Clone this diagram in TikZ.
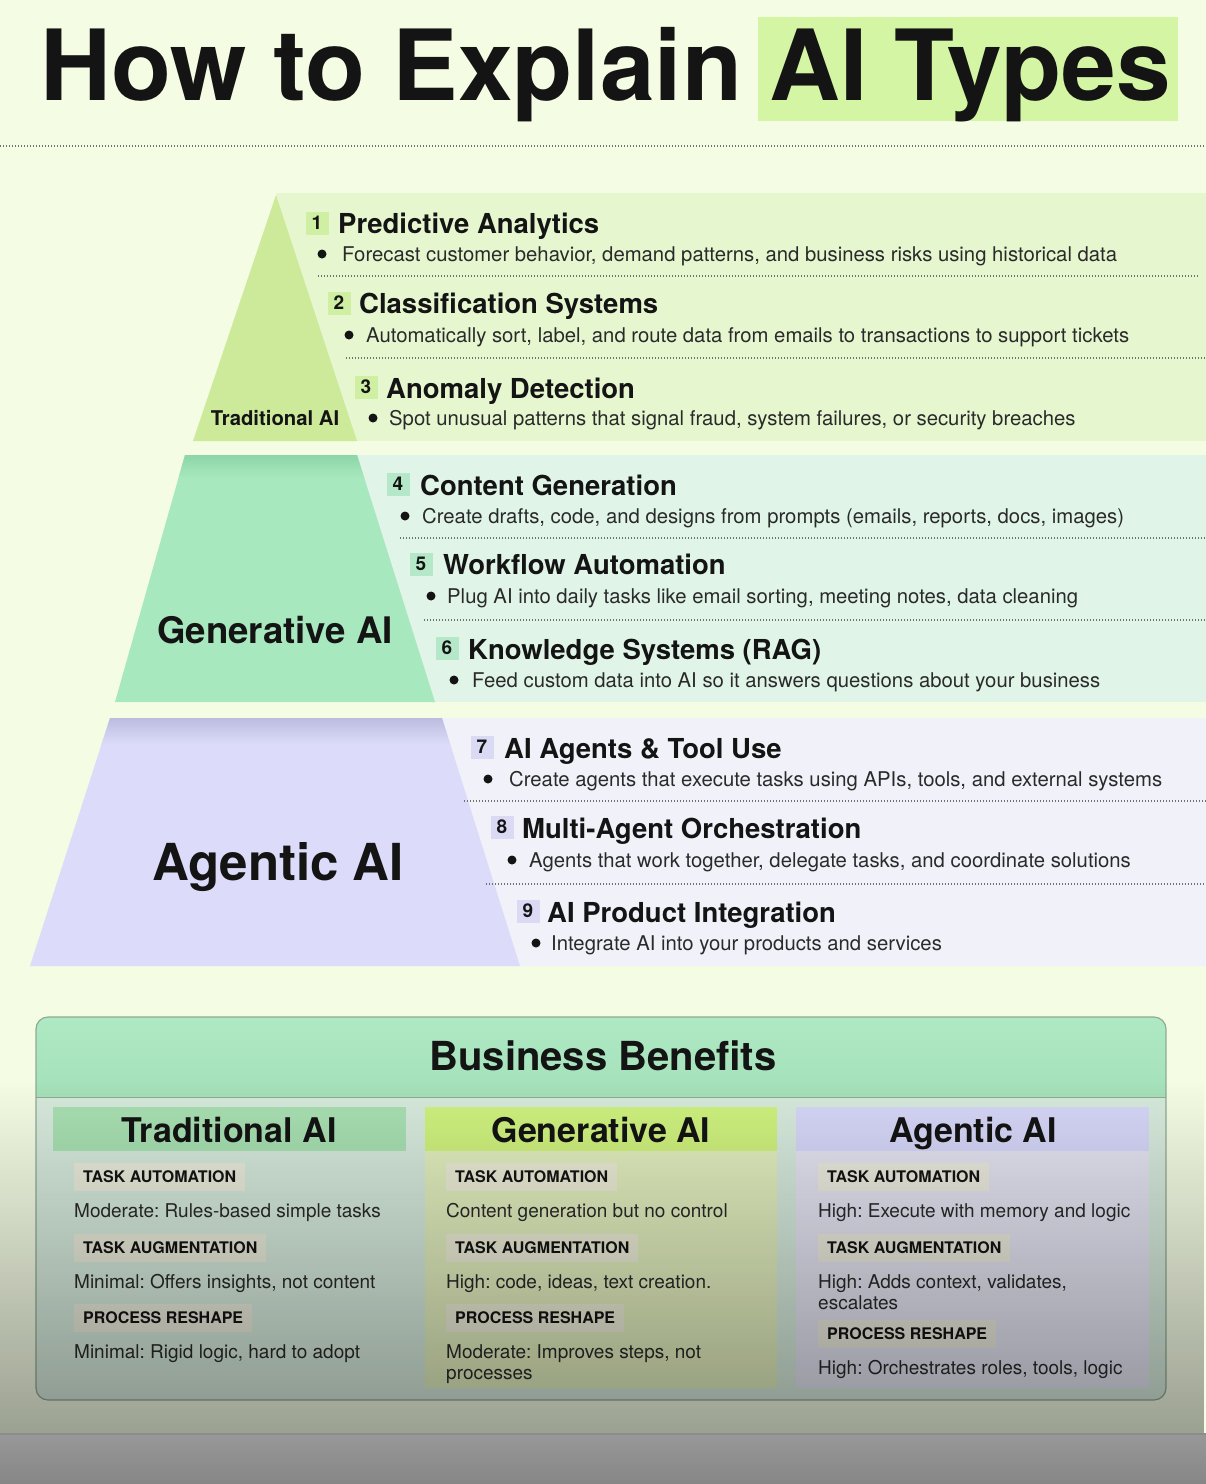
\documentclass[tikz,border=0pt]{standalone}
\usepackage{fontspec}
\setmainfont{TeX Gyre Heros}
\usetikzlibrary{fadings}
\tikzfading[name=darkdown, top color=transparent!100, bottom color=transparent!0]
\definecolor{bg}{HTML}{F4FCE4}
\definecolor{hl}{HTML}{D4F5A3}
\definecolor{ink}{HTML}{141414}
\definecolor{desc}{HTML}{2A2A2A}
\definecolor{dotc}{HTML}{707070}
\definecolor{trtri}{HTML}{CDEA9A}
\definecolor{trpanel}{HTML}{E6F7D0}
\definecolor{trbadge}{HTML}{CFF0A3}
\definecolor{gentrap}{HTML}{A8E8BE}
\definecolor{gentop}{HTML}{8CD6A8}
\definecolor{genpanel}{HTML}{E0F5E8}
\definecolor{genbadge}{HTML}{B4E8C8}
\definecolor{agtrap}{HTML}{DCDCFA}
\definecolor{agtop}{HTML}{BCBCE0}
\definecolor{agpanel}{HTML}{F1F1FA}
\definecolor{agbadge}{HTML}{DADAF5}
\definecolor{bbhead}{HTML}{AEE9C4}
\definecolor{bbhead2}{HTML}{A4E0B8}
\definecolor{bbbody}{HTML}{D6EADC}
\definecolor{bbedge}{HTML}{8FAA95}
\definecolor{colTr}{HTML}{A8E0B2}
\definecolor{colGen}{HTML}{CFF27E}
\definecolor{colAg}{HTML}{D6D6F8}
\definecolor{bodyGen}{HTML}{E2EEBE}
\definecolor{bodyAg}{HTML}{E4E4F2}
\definecolor{tagbg}{HTML}{EEEDDB}
\definecolor{stripA}{HTML}{989898}
\definecolor{stripB}{HTML}{868686}
\tikzset{
  ititle/.style={anchor=base west, inner sep=0, font=\fontsize{27.5}{30}\selectfont\bfseries, text=ink},
  idesc/.style={anchor=base west, inner sep=0, font=\fontsize{20.3}{22}\selectfont\frenchspacing, text=desc},
  badge/.style={fill=#1, minimum size=23, inner sep=0, font=\fontsize{19}{19}\selectfont\bfseries, text=ink},
  bulletdot/.style={circle, fill=ink, inner sep=0, minimum size=9},
  dotline/.style={draw=dotc, line width=1.1, dash pattern=on 1.1 off 1.9},
  tagbox/.style={anchor=west, fill=tagbg, fill opacity=0.85, text opacity=1, inner xsep=9, inner ysep=0, minimum height=28, text height=11.5, text depth=0, font=\fontsize{16}{16}\selectfont\bfseries, text=ink},
  btext/.style={anchor=base west, inner sep=0, font=\fontsize{19}{20.5}\selectfont\frenchspacing, text=desc, align=left},
  colhead/.style={anchor=base, inner sep=0, font=\fontsize{34}{36}\selectfont\bfseries, text=ink},
}
\begin{document}
\begin{tikzpicture}[x=1pt,y=-1pt]
\useasboundingbox (0,0) rectangle (1206,1484);
\fill[bg] (0,0) rectangle (1206,1484);

% ---------- title ----------
\fill[hl] (758,17) rectangle (1178,121);
\node[anchor=base west, inner sep=0, font=\fontsize{98.2}{100}\selectfont\bfseries, text=ink] (title) at (40,100) {How to Explain AI Types};
\draw[dotline] (0,146) -- (1206,146);

% ---------- Traditional tier ----------
\fill[trpanel] (276,193) rectangle (1206,441);
\fill[trtri] (276,195) -- (357,441) -- (193,441) -- cycle;
\node[anchor=base, inner sep=0, font=\fontsize{20.3}{22}\selectfont\bfseries, text=ink] (lblTr) at (275,425) {Traditional AI};

\node[badge=trbadge] (b1) at (317,223) {1};
\node[ititle] (t1) at (338,233) {Predictive Analytics};
\node[bulletdot] (d1) at (322,254) {};
\node[idesc] (s1) at (342,261) {Forecast customer behavior, demand patterns, and business risks using historical data};
\draw[dotline] (318,276) -- (1198,276);

\node[badge=trbadge] (b2) at (339,303) {2};
\node[ititle] (t2) at (359,313) {Classification Systems};
\node[bulletdot] (d2) at (349,335) {};
\node[idesc] (s2) at (366,342) {Automatically sort, label, and route data from emails to transactions to support tickets};
\draw[dotline] (346,358) -- (1206,358);

\node[badge=trbadge] (b3) at (366,387) {3};
\node[ititle] (t3) at (386,398) {Anomaly Detection};
\node[bulletdot] (d3) at (373,418) {};
\node[idesc] (s3) at (389,425) {Spot unusual patterns that signal fraud, system failures, or security breaches};

% ---------- Generative tier ----------
\fill[genpanel] (357,455) rectangle (1206,702);
\fill[gentrap] (185,455) -- (357,455) -- (435,702) -- (115,702) -- cycle;
\begin{scope}
\clip (185,455) -- (357,455) -- (435,702) -- (115,702) -- cycle;
\shade[top color=gentop, bottom color=gentrap] (100,455) rectangle (440,478);
\end{scope}
\node[anchor=base, inner sep=0, font=\fontsize{36.6}{40}\selectfont\bfseries, text=ink] (lblGen) at (275,643) {Generative AI};

\node[badge=genbadge] (b4) at (398,484) {4};
\node[ititle] (t4) at (420,495) {Content Generation};
\node[bulletdot] (d4) at (405,516) {};
\node[idesc] (s4) at (422,523) {Create drafts, code, and designs from prompts (emails, reports, docs, images)};
\draw[dotline] (400,538) -- (1206,538);

\node[badge=genbadge] (b5) at (421,564) {5};
\node[ititle] (t5) at (443,574) {Workflow Automation};
\node[bulletdot] (d5) at (431,596) {};
\node[idesc] (s5) at (447,603) {Plug AI into daily tasks like email sorting, meeting notes, data cleaning};
\draw[dotline] (424,620) -- (1206,620);

\node[badge=genbadge] (b6) at (447,648) {6};
\node[ititle] (t6) at (468,659) {Knowledge Systems (RAG)};
\node[bulletdot] (d6) at (454,680) {};
\node[idesc] (s6) at (472,687) {Feed custom data into AI so it answers questions about your business};

% ---------- Agentic tier ----------
\fill[agpanel] (442,718) rectangle (1206,966);
\fill[agtrap] (110,718) -- (442,718) -- (520,966) -- (30,966) -- cycle;
\begin{scope}
\clip (110,718) -- (442,718) -- (520,966) -- (30,966) -- cycle;
\shade[top color=agtop, bottom color=agtrap] (20,718) rectangle (530,745);
\end{scope}
\node[anchor=base, inner sep=0, font=\fontsize{51}{54}\selectfont\bfseries, text=ink] (lblAg) at (278,880) {Agentic AI};

\node[badge=agbadge] (b7) at (482,747) {7};
\node[ititle] (t7) at (504,758) {AI Agents \& Tool Use};
\node[bulletdot] (d7) at (488,779) {};
\node[idesc] (s7) at (509,786) {Create agents that execute tasks using APIs, tools, and external systems};
\draw[dotline] (464,801) -- (1206,801);

\node[badge=agbadge] (b8) at (502,827) {8};
\node[ititle] (t8) at (522,838) {Multi-Agent Orchestration};
\node[bulletdot] (d8) at (512,860) {};
\node[idesc] (s8) at (529,867) {Agents that work together, delegate tasks, and coordinate solutions};
\draw[dotline] (486,884) -- (1206,884);

\node[badge=agbadge] (b9) at (528,911) {9};
\node[ititle] (t9) at (547,922) {AI Product Integration};
\node[bulletdot] (d9) at (536,943) {};
\node[idesc] (s9) at (551,950) {Integrate AI into your products and services};

% ---------- Business benefits ----------
\begin{scope}
\clip[rounded corners=12] (36,1017) rectangle (1166,1400);
\fill[bbbody] (36,1017) rectangle (1166,1400);
\shade[top color=bbhead, bottom color=bbhead2] (36,1017) rectangle (1166,1097);
\end{scope}
\draw[bbedge, line width=1] (36,1097) -- (1166,1097);
\draw[bbedge, line width=1.2, rounded corners=12] (36,1017) rectangle (1166,1400);
\node[anchor=base, inner sep=0, font=\fontsize{40}{44}\selectfont\bfseries, text=ink] (bbtitle) at (603,1070) {Business Benefits};

% columns
\fill[colTr] (53,1107) rectangle (406,1151);
\fill[colGen] (425,1107) rectangle (777,1151);
\fill[bodyGen] (425,1151) rectangle (777,1388);
\fill[colAg] (796,1107) rectangle (1149,1151);
\fill[bodyAg] (796,1151) rectangle (1149,1388);
\node[colhead] (hTr) at (229,1142) {Traditional AI};
\node[colhead] (hGen) at (601,1142) {Generative AI};
\node[colhead] (hAg) at (973,1142) {Agentic AI};

% Traditional column
\node[tagbox] (trA) at (74,1177) {TASK AUTOMATION};
\node[btext] (trAt) at (74,1217) {Moderate: Rules-based simple tasks};
\node[tagbox] (trG) at (74,1248) {TASK AUGMENTATION};
\node[btext] (trGt) at (74,1288) {Minimal: Offers insights, not content};
\node[tagbox] (trP) at (74,1318) {PROCESS RESHAPE};
\node[btext] (trPt) at (74,1358) {Minimal: Rigid logic, hard to adopt};

% Generative column
\node[tagbox] (gnA) at (446,1177) {TASK AUTOMATION};
\node[btext] (gnAt) at (446,1217) {Content generation but no control};
\node[tagbox] (gnG) at (446,1248) {TASK AUGMENTATION};
\node[btext] (gnGt) at (446,1288) {High: code, ideas, text creation.};
\node[tagbox] (gnP) at (446,1318) {PROCESS RESHAPE};
\node[btext, anchor=north west] (gnPt) at (446,1344.5) {Moderate: Improves steps, not\\processes};

% Agentic column
\node[tagbox] (agA) at (818,1177) {TASK AUTOMATION};
\node[btext] (agAt) at (818,1217) {High: Execute with memory and logic};
\node[tagbox] (agG) at (818,1248) {TASK AUGMENTATION};
\node[btext, anchor=north west] (agGt) at (818,1274.5) {High: Adds context, validates,\\escalates};
\node[tagbox] (agP) at (818,1334) {PROCESS RESHAPE};
\node[btext] (agPt) at (818,1374) {High: Orchestrates roles, tools, logic};

% darkening overlay and bottom strip
\fill[black, opacity=0.36, path fading=darkdown] (0,1080) rectangle (1206,1434);
\shade[top color=stripA, bottom color=stripB] (0,1434) rectangle (1206,1484);
\draw[color=black!45, line width=1.5] (0,1434) -- (1206,1434);
\end{tikzpicture}
\end{document}
